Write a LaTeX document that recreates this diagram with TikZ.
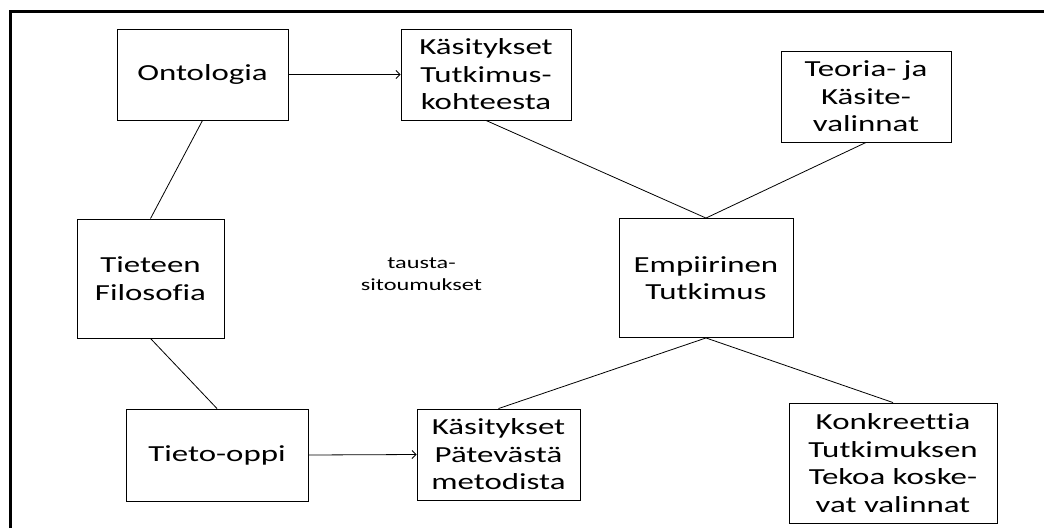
\documentclass[tikz,border=0pt]{standalone}
\usepackage{fontspec}
\setmainfont[FakeStretch=1.43,Ligatures=NoCommon]{Carlito}
\usetikzlibrary{arrows.meta}
\begin{document}
\begin{tikzpicture}[x=1pt,y=-1pt,
  box/.style={draw, line width=0.9pt, inner sep=0pt, align=center,
    font=\fontsize{23}{27.5}\selectfont},
  link/.style={line width=0.8pt},
  flow/.style={line width=0.8pt, -{Straight Barb[length=4pt,width=8pt]}},
  note/.style={align=center, font=\fontsize{17}{21.5}\selectfont}]
  \useasboundingbox (0,0) rectangle (1044,528);
  % frame along the top and the left side
  \draw[line width=3.5pt] (10.5,528) -- (10.5,11.5) -- (1044,11.5);

  \node[box, minimum width=171pt, minimum height=91pt] (onto) at (202.5,74.5) {Ontologia};
  \node[box, minimum width=170pt, minimum height=91pt] (kohde) at (486,74.5) {Käsitykset\\Tutkimus-\\kohteesta};
  \node[box, minimum width=170pt, minimum height=91pt] (teoria) at (866,96.5) {Teoria- ja\\Käsite-\\valinnat};
  \node[box, minimum width=147pt, minimum height=119pt] (filo) at (150.5,278.5) {Tieteen\\Filosofia};
  \node[box, minimum width=174pt, minimum height=119pt] (emp) at (706,278) {Empiirinen\\Tutkimus};
  \node[box, minimum width=182pt, minimum height=92pt] (tieto) at (217,455) {Tieto-oppi};
  \node[box, minimum width=163pt, minimum height=91pt] (metodi) at (498.5,454.5) {Käsitykset\\Pätevästä\\metodista};
  \node[box, minimum width=208pt, minimum height=120pt] (konk) at (893,463) {Konkreettia\\Tutkimuksen\\Tekoa koske-\\vat valinnat};
  \node[note] (tausta) at (421.5,274) {tausta-\\sitoumukset};

  \draw[link] (onto.south) -- (filo.north);
  \draw[link] (filo.south) -- (tieto.north);
  \draw[flow] (onto.east) -- (kohde.west);
  \draw[flow] (tieto.east) -- (metodi.west);
  \draw[link] (kohde.south) -- (emp.north);
  \draw[link] (teoria.south) -- (emp.north);
  \draw[link] (emp.south) -- (metodi.north);
  \draw[link] (emp.south) -- (konk.north);
\end{tikzpicture}
\end{document}
